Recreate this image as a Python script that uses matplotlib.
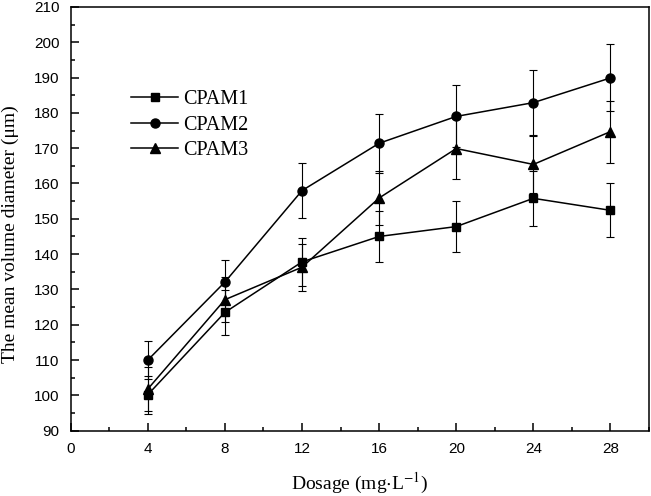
import matplotlib
matplotlib.use('Agg')
import matplotlib.pyplot as plt
from matplotlib.ticker import MultipleLocator

# dosage (mg/L) and mean volume diameter (um) with error bars
dosage = [4, 8, 12, 16, 20, 24, 28]
cpam1 = [100.2, 123.5, 137.8, 145.0, 147.8, 155.8, 152.4]
cpam1_err = [5.4, 6.3, 6.9, 7.2, 7.3, 7.7, 7.6]
cpam2 = [110.0, 132.1, 158.0, 171.4, 179.0, 182.9, 189.9]
cpam2_err = [5.3, 6.1, 7.8, 8.3, 8.8, 9.2, 9.5]
cpam3 = [101.8, 127.1, 136.3, 155.9, 169.9, 165.4, 174.7]
cpam3_err = [6.2, 6.3, 6.7, 7.6, 8.5, 8.0, 8.8]

plt.rcParams['mathtext.fontset'] = 'stix'

fig = plt.figure(figsize=(6.51, 4.96), dpi=100)
ax = fig.add_axes([0.1086, 0.1317, 0.8884, 0.8543])

series = [('CPAM1', cpam1, cpam1_err, 's', 5.5),
          ('CPAM2', cpam2, cpam2_err, 'o', 6.5),
          ('CPAM3', cpam3, cpam3_err, '^', 7)]
for name, vals, err, mk, ms in series:
    ax.errorbar(dosage, vals, yerr=err, color='black', marker=mk, markersize=ms,
                linewidth=1.1, elinewidth=0.8, capsize=2.8, capthick=0.8, label=name)

ax.set_xlim(0, 30)
ax.set_ylim(90, 210)
ax.xaxis.set_major_locator(MultipleLocator(4))
ax.xaxis.set_minor_locator(MultipleLocator(2))
ax.yaxis.set_major_locator(MultipleLocator(10))
ax.yaxis.set_minor_locator(MultipleLocator(5))
ax.tick_params(which='both', direction='in', top=False, right=False, width=1.1)
ax.tick_params(which='major', length=5.5, labelsize=11, pad=8)
ax.tick_params(which='minor', length=3)
for lab in ax.get_xticklabels() + ax.get_yticklabels():
    lab.set_family('Liberation Sans')
for sp in ax.spines.values():
    sp.set_linewidth(1.1)

ax.set_xlabel('Dosage (mg$\\cdot$L$^{-1}$)', family='Liberation Serif', fontsize=14, labelpad=11)
ax.set_ylabel('The mean volume diameter (μm)', family='Liberation Serif', fontsize=14)
ax.yaxis.set_label_coords(-0.0894, 0.464)

handles, labels = ax.get_legend_handles_labels()
handles = [h[0] for h in handles]
ax.legend(handles, labels, loc='upper left', bbox_to_anchor=(0.105, 0.804), frameon=False,
          prop={'family': 'Liberation Serif', 'size': 14.5}, handlelength=2.3,
          handletextpad=0.25, labelspacing=0.32, borderpad=0, borderaxespad=0)

fig.savefig('out.png', dpi=100)
